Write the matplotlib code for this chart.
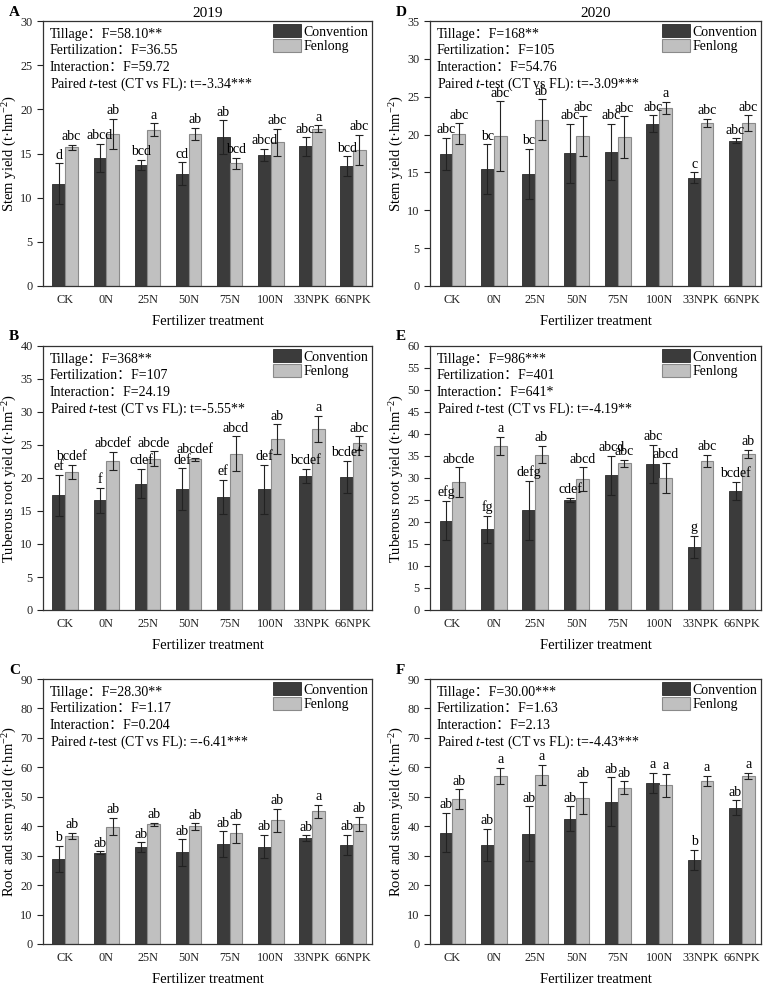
import matplotlib
matplotlib.use("Agg")
import matplotlib.pyplot as plt
import numpy as np
from matplotlib.patches import Patch

plt.rcParams['font.family'] = ['Liberation Serif', 'Noto Sans CJK SC']
plt.rcParams['mathtext.fontset'] = 'custom'
plt.rcParams['mathtext.rm'] = 'Liberation Serif'
plt.rcParams['mathtext.it'] = 'Liberation Serif:italic'

categories = ['CK', '0N', '25N', '50N', '75N', '100N', '33NPK', '66NPK']

# Panel A: Stem yield 2019
A_conv = [11.6, 14.5, 13.7, 12.7, 16.85, 14.85, 15.8, 13.6]
A_conv_err = [2.3, 1.6, 0.6, 1.3, 1.9, 0.65, 1.05, 1.1]
A_fen = [15.7, 17.25, 17.7, 17.2, 13.9, 16.25, 17.8, 15.45]
A_fen_err = [0.3, 1.7, 0.7, 0.7, 0.6, 1.55, 0.4, 1.7]
A_conv_let = ['d', 'abcd', 'bcd', 'cd', 'ab', 'abcd', 'abc', 'bcd']
A_fen_let = ['abc', 'ab', 'a', 'ab', 'bcd', 'abc', 'a', 'abc']
A_stats = ['58.10**', '36.55', '59.72', 't=-3.34***']

# Panel D: Stem yield 2020
D_conv = [17.45, 15.4, 14.8, 17.55, 17.75, 21.45, 14.3, 19.2]
D_conv_err = [2.1, 3.3, 3.3, 3.9, 3.7, 1.1, 0.7, 0.3]
D_fen = [20.1, 19.8, 21.95, 19.85, 19.65, 23.5, 21.55, 21.5]
D_fen_err = [1.4, 4.6, 2.7, 2.65, 2.75, 0.8, 0.5, 1.05]
D_conv_let = ['abc', 'bc', 'bc', 'abc', 'abc', 'abc', 'c', 'abc']
D_fen_let = ['abc', 'abc', 'ab', 'abc', 'abc', 'a', 'abc', 'abc']
D_stats = ['168**', '105', '54.76', 't=-3.09***']

# Panel B: Tuberous root yield 2019
B_conv = [17.35, 16.6, 19.15, 18.3, 17.1, 18.3, 20.3, 20.2]
B_conv_err = [3.15, 1.9, 2.25, 3.2, 2.6, 3.7, 1.1, 2.4]
B_fen = [20.9, 22.6, 22.95, 22.85, 23.65, 25.9, 27.4, 25.3]
B_fen_err = [1.1, 1.35, 1.1, 0.2, 2.65, 2.25, 2.0, 1.0]
B_conv_let = ['ef', 'f', 'cdef', 'def', 'ef', 'def', 'bcdef', 'bcdef']
B_fen_let = ['bcdef', 'abcdef', 'abcde', 'abcdef', 'abcd', 'ab', 'a', 'abc']
B_stats = ['368**', '107', '24.19', 't=-5.55**']

# Panel E: Tuberous root yield 2020
E_conv = [20.3, 18.3, 22.7, 25.0, 30.65, 33.2, 14.3, 27.1]
E_conv_err = [4.5, 3.05, 6.7, 0.5, 4.4, 4.3, 2.5, 2.1]
E_fen = [29.0, 37.3, 35.3, 29.7, 33.3, 30.1, 33.85, 35.55]
E_fen_err = [3.4, 2.0, 2.0, 2.75, 0.85, 3.4, 1.45, 0.9]
E_conv_let = ['efg', 'fg', 'defg', 'cdef', 'abcd', 'abc', 'g', 'bcdef']
E_fen_let = ['abcde', 'a', 'ab', 'abcd', 'abc', 'abcd', 'abc', 'ab']
E_stats = ['986***', '401', '641*', 't=-4.19**']

# Panel C: Root and stem yield 2019
C_conv = [29.0, 31.0, 32.8, 31.1, 34.0, 33.1, 35.9, 33.7]
C_conv_err = [4.4, 0.5, 1.7, 4.5, 4.3, 3.9, 1.0, 3.45]
C_fen = [36.6, 39.9, 40.6, 39.95, 37.6, 42.0, 45.05, 40.75]
C_fen_err = [1.1, 2.9, 0.6, 1.1, 3.2, 3.9, 2.3, 2.4]
C_conv_let = ['b', 'ab', 'ab', 'ab', 'ab', 'ab', 'ab', 'ab']
C_fen_let = ['ab', 'ab', 'ab', 'ab', 'ab', 'ab', 'a', 'ab']
C_stats = ['28.30**', '1.17', '0.204', '=-6.41***']

# Panel F: Root and stem yield 2020
F_conv = [37.8, 33.65, 37.5, 42.55, 48.25, 54.8, 28.5, 46.25]
F_conv_err = [6.7, 5.4, 9.3, 4.25, 8.3, 3.4, 3.5, 2.6]
F_fen = [49.2, 57.15, 57.45, 49.6, 53.1, 53.85, 55.4, 57.1]
F_fen_err = [3.4, 2.7, 3.4, 5.45, 2.2, 4.0, 1.8, 1.1]
F_conv_let = ['ab', 'ab', 'ab', 'ab', 'ab', 'a', 'b', 'ab']
F_fen_let = ['ab', 'a', 'a', 'ab', 'ab', 'a', 'a', 'a']
F_stats = ['30.00***', '1.63', '2.13', 't=-4.43***']

W, H = 767, 989
fig = plt.figure(figsize=(W / 100, H / 100), dpi=100)

dark = '#3b3b3b'
light = '#c0c0c0'
frame = '#333333'

def make_panel(rect, conv, conv_err, fen, fen_err, conv_let, fen_let, stats,
               ymax, ystep, ylabel, letter, title=None):
    x0, y0, x1, y1 = rect
    ax = fig.add_axes([x0 / W, 1 - y1 / H, (x1 - x0) / W, (y1 - y0) / H])
    x = np.arange(len(categories))
    bw = 0.31
    ekw = dict(ecolor='#222222', elinewidth=0.8, capsize=2.8, capthick=0.8)
    ax.bar(x - bw / 2, conv, bw, color=dark, edgecolor='#2a2a2a', linewidth=0.6,
           yerr=conv_err, error_kw=ekw, zorder=2)
    ax.bar(x + bw / 2, fen, bw, color=light, edgecolor='#8a8a8a', linewidth=0.8,
           yerr=fen_err, error_kw=ekw, zorder=2)
    off = ymax * 0.006
    for i in range(len(categories)):
        ax.text(x[i] - bw / 2, conv[i] + conv_err[i] + off, conv_let[i],
                ha='center', va='bottom', fontsize=10, zorder=3)
        ax.text(x[i] + bw / 2, fen[i] + fen_err[i] + off, fen_let[i],
                ha='center', va='bottom', fontsize=10, zorder=3)
    ax.set_xlim(-0.54, 7.46)
    ax.set_ylim(0, ymax)
    ax.set_yticks(np.arange(0, ymax + 0.1, ystep))
    ax.set_xticks(x)
    ax.set_xticklabels(categories)
    ax.tick_params(axis='both', direction='out', length=4, width=0.8,
                   labelsize=8.8, colors='#222222')
    ax.tick_params(axis='x', length=0, pad=6)
    for s in ax.spines.values():
        s.set_color(frame)
        s.set_linewidth(0.9)
    ax.set_xlabel('Fertilizer treatment', fontsize=10.5, labelpad=6)
    ax.set_ylabel(ylabel, fontsize=10.5, labelpad=1)
    lines = ['Tillage\uff1aF=' + stats[0],
             'Fertilization\uff1aF=' + stats[1],
             'Interaction\uff1aF=' + stats[2],
             r'Paired $\mathit{t}$-test (CT vs FL): ' + stats[3]]
    for k, ln in enumerate(lines):
        ax.annotate(ln, xy=(0, 1), xycoords='axes fraction',
                    xytext=(5, -12.0 - k * 12.0), textcoords='offset points',
                    ha='left', va='baseline', fontsize=10, zorder=4)
    handles = [Patch(facecolor=dark, edgecolor='#2a2a2a', linewidth=0.6),
               Patch(facecolor=light, edgecolor='#8a8a8a', linewidth=0.8)]
    ax.legend(handles, ['Convention', 'Fenlong'], loc='upper right',
              frameon=False, fontsize=10, handlelength=2.0, handleheight=1.05,
              labelspacing=0.0, handletextpad=0.2, borderaxespad=0.1,
              borderpad=0.15)
    fig.text((x0 - 34) / W, 1 - 12 / H - y0 / H + 21 / H, letter,
             fontsize=11, fontweight='bold', ha='left', va='center')
    if title:
        ax.set_title(title, fontsize=11, pad=3)
    return ax

yl_stem = 'Stem yield (t\u00b7hm$^{-2}$)'
yl_root = 'Tuberous root yield (t\u00b7hm$^{-2}$)'
yl_rs = 'Root and stem yield (t\u00b7hm$^{-2}$)'

make_panel((43, 21, 372, 286), A_conv, A_conv_err, A_fen, A_fen_err,
           A_conv_let, A_fen_let, A_stats, 30, 5, yl_stem, 'A', '2019')
make_panel((430, 21, 761, 286), D_conv, D_conv_err, D_fen, D_fen_err,
           D_conv_let, D_fen_let, D_stats, 35, 5, yl_stem, 'D', '2020')
make_panel((43, 346, 372, 610), B_conv, B_conv_err, B_fen, B_fen_err,
           B_conv_let, B_fen_let, B_stats, 40, 5, yl_root, 'B')
make_panel((430, 346, 761, 610), E_conv, E_conv_err, E_fen, E_fen_err,
           E_conv_let, E_fen_let, E_stats, 60, 5, yl_root, 'E')
make_panel((43, 679, 372, 944), C_conv, C_conv_err, C_fen, C_fen_err,
           C_conv_let, C_fen_let, C_stats, 90, 10, yl_rs, 'C')
make_panel((430, 679, 761, 944), F_conv, F_conv_err, F_fen, F_fen_err,
           F_conv_let, F_fen_let, F_stats, 90, 10, yl_rs, 'F')

fig.savefig('out.png', dpi=100)
